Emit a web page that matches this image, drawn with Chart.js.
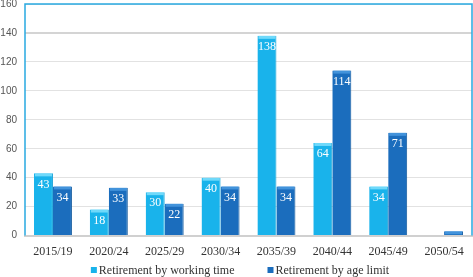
<!DOCTYPE html>
<html><head><meta charset="utf-8">
<script src="https://cdn.jsdelivr.net/npm/chart.js@4/dist/chart.umd.min.js"></script>
<style>html,body{margin:0;padding:0;background:#fff;overflow:hidden}#wrap{width:473px;height:277px;position:relative;overflow:hidden}#c{position:absolute;left:0;top:-10px}</style>
</head><body><div id="wrap"><canvas id="c" width="473" height="287"></canvas></div>
<script>
const categories = ["2015/19","2020/24","2025/29","2030/34","2035/39","2040/44","2045/49","2050/54"];
const workingTime = [43,18,30,40,138,64,34,0];
const ageLimit = [34,33,22,34,34,114,71,3];
const seriesNames = ["Retirement by working time","Retirement by age limit"];
const yTicks = [0,20,40,60,80,100,120,140,160];

const LIGHT = '#19b3eb', DARK = '#1b6dbd';

const labelPlugin = {
  id: 'barLabels',
  afterDatasetsDraw(chart) {
    const ctx = chart.ctx;
    ctx.save();
    chart.data.datasets.forEach((ds, di) => {
      const meta = chart.getDatasetMeta(di);
      meta.data.forEach((bar, i) => {
        const v = ds.data[i];
        if (!v) return;
        ctx.fillStyle = di === 0 ? 'rgba(140,230,255,0.75)' : 'rgba(80,160,230,0.75)';
        ctx.fillRect(bar.x - bar.width/2 + 1, bar.y, bar.width - 2, Math.min(3, bar.base - bar.y));
        if (v < 10) return;
        ctx.font = '12px "Liberation Serif", serif';
        ctx.fillStyle = '#ffffff';
        ctx.textAlign = 'center';
        ctx.textBaseline = 'middle';
        ctx.fillText(String(v), bar.x, bar.y + 11);
      });
    });
    ctx.restore();
  }
};
const framePlugin = {
  id: 'frame',
  afterDraw(chart) {
    const a = chart.chartArea, ctx = chart.ctx;
    ctx.save();
    ctx.strokeStyle = '#29a9e1';
    ctx.lineWidth = 1.5;
    ctx.beginPath();
    ctx.moveTo(a.left, a.bottom);
    ctx.lineTo(a.left, a.top);
    ctx.lineTo(a.right, a.top);
    ctx.lineTo(a.right, a.bottom);
    ctx.stroke();
    ctx.restore();
    // legend
    const ds = chart.data.datasets;
    ctx.save();
    ctx.font = '12px "Liberation Serif", serif';
    ctx.textBaseline = 'middle';
    const box = 6, gap = 2, spacing = 33;
    const widths = ds.map(d => box + gap + ctx.measureText(d.label).width);
    const total = widths.reduce((s, w) => s + w, 0) + spacing * (ds.length - 1);
    let x = 240 - total / 2;
    const y = 280;
    ds.forEach((d, i) => {
      ctx.fillStyle = d.backgroundColor;
      ctx.fillRect(x, y - box/2, box, box);
      ctx.fillStyle = '#333';
      ctx.fillText(d.label, x + box + gap, y + 0.5);
      x += widths[i] + spacing;
    });
    ctx.restore();
  }
};

new Chart(document.getElementById('c'), {
  type: 'bar',
  data: {
    labels: categories,
    datasets: [
      { label: seriesNames[0], data: workingTime, backgroundColor: LIGHT, borderColor: '#0f9fd6', borderWidth: {left:0,right:1,top:0,bottom:0} },
      { label: seriesNames[1], data: ageLimit, backgroundColor: DARK, borderColor: '#135a9e', borderWidth: {left:0,right:1,top:0,bottom:0} }
    ]
  },
  options: {
    responsive: false,
    animation: false,
    layout: { padding: { top: 0, right: 1, left: 0, bottom: 9 } },
    plugins: {
      legend: { display: false },
      tooltip: { enabled: false }
    },
    datasets: { bar: { categoryPercentage: 0.68, barPercentage: 1.0 } },
    scales: {
      x: {
        grid: { display: false, drawTicks: false },
        border: { color: '#d0d0d0', width: 2 },
        ticks: { font: { family: '"Liberation Serif", serif', size: 12 }, color: '#333', padding: 9, maxRotation: 0 }
      },
      y: {
        min: 0, max: 160,
        afterBuildTicks(axis) { axis.ticks = yTicks.map(v => ({ value: v })); },
        afterFit(axis) { axis.width = 25; },
        grid: {
          color: (c) => c.tick && c.tick.value === 140 ? '#d4d4d4' : '#e2e2e2',
          lineWidth: (c) => c.tick && c.tick.value === 140 ? 2 : 1,
          drawTicks: false
        },
        border: { display: false },
        ticks: { font: { family: '"Liberation Sans", sans-serif', size: 10 }, color: '#555', padding: 8 }
      }
    }
  },
  plugins: [labelPlugin, framePlugin]
});
</script></body></html>
